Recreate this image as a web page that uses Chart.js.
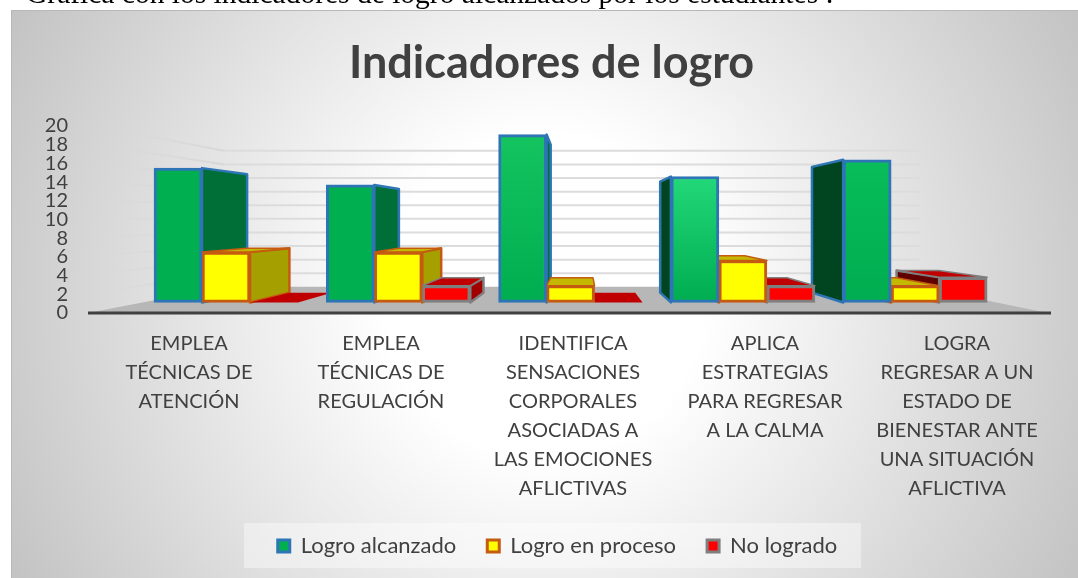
<!DOCTYPE html>
<html><head><meta charset="utf-8">
<style>
html,body{margin:0;padding:0;background:#fff;width:1078px;height:578px;overflow:hidden}
#c{position:absolute;left:0;top:0}
#intro{position:absolute;left:26px;top:-23px;font:29.5px "Liberation Serif",serif;color:#000;white-space:nowrap;height:33px;overflow:hidden}
</style>
<script src="https://cdn.jsdelivr.net/npm/chart.js@4"></script>
</head><body>
<canvas id="c" width="1078" height="578"></canvas>
<div id="intro">Gráfica con los indicadores de logro alcanzados por los estudiantes :</div>
<script>
const categories=[
 ["EMPLEA","TÉCNICAS DE","ATENCIÓN"],
 ["EMPLEA","TÉCNICAS DE","REGULACIÓN"],
 ["IDENTIFICA","SENSACIONES","CORPORALES","ASOCIADAS A","LAS EMOCIONES","AFLICTIVAS"],
 ["APLICA","ESTRATEGIAS","PARA REGRESAR","A LA CALMA"],
 ["LOGRA","REGRESAR A UN","ESTADO DE","BIENESTAR ANTE","UNA SITUACIÓN","AFLICTIVA"]
];
const logroAlcanzado=[16,14,20,15,17];
const logroEnProceso=[6,6,2,5,2];
const noLogrado=[0,2,0,2,3];
const seriesNames=["Logro alcanzado","Logro en proceso","No logrado"];
const FONT='Lato, "Open Sans", sans-serif';
const TXT='#404040';
const VP={x:581,y:220}, K=0.881;
const faces=[
 {right:'#006f37',left:'#00451f',top:'#00a04a',stroke:'#2e75b6'},
 {right:'#a5a000',left:'#a5a000',top:'#c4b800',stroke:'#c55a11'},
 {right:'#a00000',left:'#600000',top:'#c00000',stroke:'#7f7f7f'}
];
const greenTops=[null,null,'#13c45f','#22d878','#08bd5a'];
function greenFill(ctx){
  const i=ctx.dataIndex;
  if(i===undefined||!greenTops[i]||!ctx.chart.chartArea) return '#00b050';
  const s=ctx.chart.scales.y;
  const g=ctx.chart.ctx.createLinearGradient(0,s.getPixelForValue(logroAlcanzado[i]),0,s.getPixelForValue(0));
  g.addColorStop(0,greenTops[i]); g.addColorStop(1,'#00ad50');
  return g;
}
const proj=(x,y)=>[VP.x+(x-VP.x)*K,VP.y+(y-VP.y)*K];
function poly(c,pts,fill,stroke,lw){
  c.beginPath();pts.forEach((p,i)=>i?c.lineTo(p[0],p[1]):c.moveTo(p[0],p[1]));c.closePath();
  c.fillStyle=fill;c.fill();
  if(stroke){c.strokeStyle=stroke;c.lineWidth=lw||2;c.lineJoin='round';c.stroke();}
}
const scene={
 id:'scene',
 afterLayout(chart){
  const t=chart.titleBlock,l=chart.legend;
  t.left+=15;t.right+=15;
  l.left+=21;l.right+=21;
 },
 beforeDraw(chart){
  const c=chart.ctx;
  c.save();
  const g=c.createRadialGradient(545,295,0,545,295,640);
  g.addColorStop(0,'#ffffff');g.addColorStop(0.25,'#ffffff');g.addColorStop(1,'#bebebe');
  c.fillStyle=g;c.fillRect(0,0,1078,578);
  c.restore();
  c.fillStyle='#fff';c.fillRect(0,0,11,578);c.fillRect(0,0,1078,10);
  c.fillStyle='#b8b8b8';c.fillRect(11,10,1067,1);c.fillRect(11,10,1,568);
  c.fillStyle='rgba(255,255,255,0.4)';c.fillRect(244,523,617,45);
 },
 beforeDatasetsDraw(chart){
  const c=chart.ctx, yt=chart.scales.yt, yb=chart.scales.yb;
  c.save();
  const L=224,R=920,XL=90;
  const floorB=yb.getPixelForValue(0), axisY=yt.getPixelForValue(0);
  poly(c,[[L,floorB],[R,floorB],[1043,axisY-1],[93,axisY-1]],'#b7b7b7');
  yt.ticks.forEach(t=>{
    if(t.value===0) return;
    const yB=yb.getPixelForValue(t.value), yL=yt.getPixelForValue(t.value);
    c.lineWidth=2;c.strokeStyle='#dcdcdc';
    c.beginPath();c.moveTo(L,yB);c.lineTo(R,yB);c.stroke();
    const g=c.createLinearGradient(XL,0,L,0);
    g.addColorStop(0,'rgba(215,215,215,0.05)');g.addColorStop(1,'rgba(215,215,215,1)');
    c.strokeStyle=g;c.beginPath();c.moveTo(XL,yL-1);c.lineTo(L,yB);c.stroke();
  });
  c.fillStyle='#404040';c.fillRect(88,axisY-1.5,963,3);
  const bars=[];
  chart.data.datasets.forEach((d,di)=>{
    chart.getDatasetMeta(di).data.forEach(el=>{
      const p=el.getProps(['x','y','base','width'],true);
      bars.push({di,x:p.x,y:p.y,b:p.base,w:p.width});
    });
  });
  bars.sort((a,b)=>Math.abs(b.x-VP.x)-Math.abs(a.x-VP.x));
  bars.forEach(h=>{
    const f=faces[h.di],l=h.x-h.w/2,r=h.x+h.w/2,flat=Math.abs(h.b-h.y)<1;
    const st=flat?null:f.stroke;
    if(!flat&&r<VP.x) poly(c,[[r,h.y],[r,h.b],proj(r,h.b),proj(r,h.y)],f.right,st,2.5);
    if(!flat&&l>VP.x) poly(c,[[l,h.y],[l,h.b],proj(l,h.b),proj(l,h.y)],f.left,st,2.5);
    if(h.y>VP.y) poly(c,[[l,h.y],[r,h.y],proj(r,h.y),proj(l,h.y)],f.top,st,1.5);
  });
  c.restore();
 }
};
const series=[logroAlcanzado,logroEnProceso,noLogrado];
const fills=[greenFill,'#ffff00','#ff0000'];
const ds=series.map((vals,i)=>({
  label:seriesNames[i],
  data:vals.map((v,k)=>({x:k,y:v})),
  xAxisID:'xb',yAxisID:'y',
  backgroundColor:fills[i],borderColor:faces[i].stroke,borderWidth:3,borderSkipped:false,
  barThickness:48
}));
new Chart(document.getElementById('c'),{
 type:'bar',
 data:{labels:categories,datasets:ds},
 plugins:[scene],
 options:{
  responsive:false,animation:false,
  layout:{padding:{left:20,right:25,top:0,bottom:11}},
  plugins:{
   tooltip:{enabled:false},
   title:{display:true,text:'Indicadores de logro',color:TXT,
     font:{family:FONT,size:45,weight:'bold',lineHeight:1.2},padding:{top:36,bottom:36}},
   legend:{display:true,position:'bottom',
     labels:{color:TXT,font:{family:FONT,size:22},boxWidth:12,boxHeight:12,padding:31}}
  },
  scales:{
   x:{type:'category',position:'bottom',grid:{display:false},border:{display:false},
      ticks:{color:TXT,font:{family:FONT,size:20,lineHeight:1.45},padding:8,maxRotation:0,minRotation:0,autoSkip:false},
      afterFit(s){s.height=191;}},
   xb:{type:'linear',display:false,min:-0.772,max:4.8,offset:false},
   y:{type:'linear',display:false,min:-1.257,max:21.018},
   yb:{type:'linear',display:false,min:-3.843,max:23.651},
   yt:{type:'linear',position:'left',min:0,max:20,grid:{display:false},border:{display:false},
      ticks:{stepSize:2,color:TXT,font:{family:FONT,size:20},padding:17,autoSkip:false},
      afterFit(s){s.width=73;}}
  }
 }
});
</script>
</body></html>
